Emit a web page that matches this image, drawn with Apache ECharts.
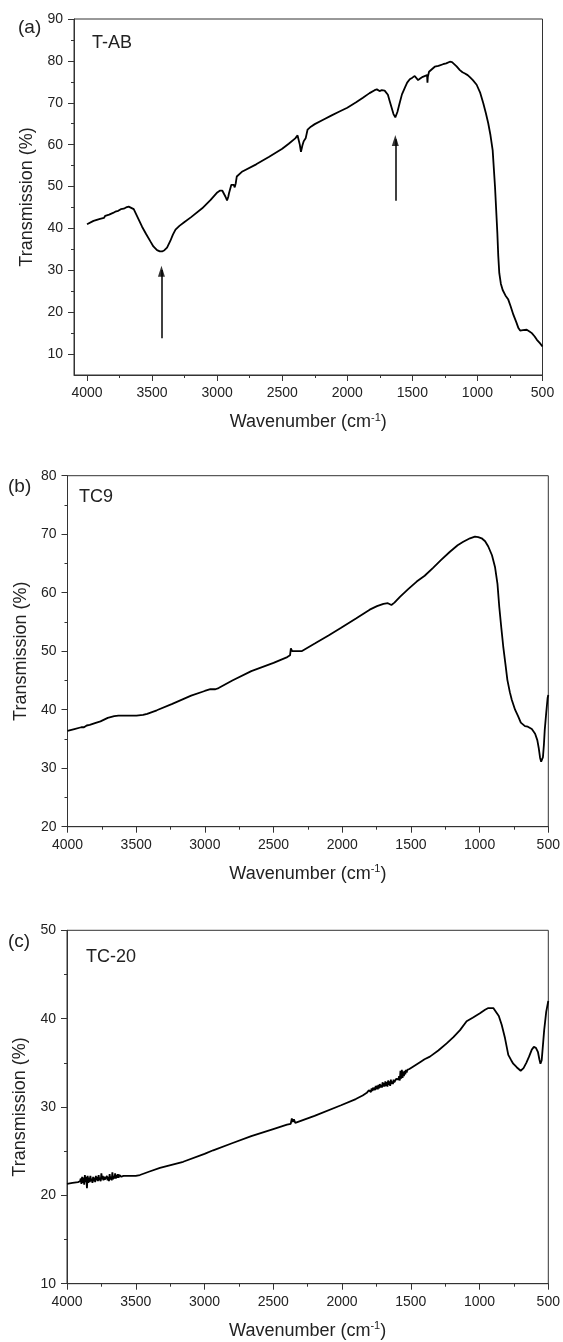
<!DOCTYPE html>
<html>
<head>
<meta charset="utf-8">
<script src="https://cdn.jsdelivr.net/npm/echarts@6/dist/echarts.min.js"></script>
<style>
html,body{margin:0;padding:0;background:#fff;}
#chart{width:563px;height:1342px;}
</style>
</head>
<body>
<div id="chart"></div>
<script>
// ---------- DATA ----------
// Panel (a) T-AB
const wnA = [4000,3950,3900,3886,3870,3860,3850,3830,3820,3800,3783,3760,3740,3718,3700,3680,3667,3641,3610,3577,3545,3513,3490,3462,3440,3423,3405,3385,3360,3340,3320,3290,3256,3200,3115,3050,2999,2980,2960,2945,2935,2924,2915,2909,2891,2882,2872,2865,2857,2849,2806,2700,2600,2500,2450,2400,2382,2374,2365,2356,2345,2335,2320,2305,2280,2250,2189,2120,2060,2000,1932,1880,1829,1790,1773,1760,1752,1735,1713,1700,1688,1675,1662,1645,1631,1615,1598,1580,1559,1540,1520,1500,1482,1470,1456,1440,1420,1405,1387,1384,1381,1372,1350,1328,1300,1264,1240,1212,1195,1181,1160,1135,1115,1096,1075,1058,1035,1006,980,955,935,917,900,883,865,847,840,832,820,806,785,763,745,724,700,685,672,650,621,600,582,560,543,520,500];
const tA  = [41.0,41.8,42.3,42.5,42.5,43.0,42.8,43.3,43.1,43.7,44.0,44.2,44.6,44.7,45.0,45.2,45.4,44.6,42.6,40.4,38.6,36.9,35.7,34.8,34.5,34.5,34.8,35.4,37.0,38.5,39.7,40.6,41.4,42.7,44.8,46.8,48.6,49.0,49.0,48.6,47.5,46.7,47.5,48.4,50.4,50.6,50.4,49.8,50.8,52.4,53.6,55.3,57.1,59.0,60.2,61.5,62.2,62.0,60.0,58.3,59.8,60.8,61.5,63.6,64.3,64.9,65.9,67.0,67.9,68.8,70.1,71.2,72.3,73.0,73.2,72.8,72.8,73.0,72.9,72.8,71.9,70.5,69.1,67.3,66.5,67.8,69.9,72.0,73.5,74.8,75.6,76.0,76.4,76.1,75.4,75.8,76.2,76.4,76.6,74.8,76.2,77.4,78.0,78.6,78.8,79.2,79.4,79.8,79.7,79.4,78.7,77.8,77.3,77.0,76.6,76.1,75.4,74.3,72.5,69.9,67.5,65.1,62.3,58.7,50.0,38.9,33.5,29.3,26.8,25.3,24.0,23.0,21.4,19.4,17.5,16.2,15.6,15.7,15.8,15.4,15.0,14.2,13.4,12.6,11.8];
// arrows in panel (a)
const arrowX    = [3428, 1631];
const arrowFrom = [13.8, 46.6];
const arrowTo   = [31.1, 62.3];

// Panel (b) TC9
const wnB = [4000,3950,3900,3880,3860,3838,3800,3760,3707,3660,3629,3560,3498,3450,3420,3350,3237,3100,3001,2960,2923,2900,2800,2662,2500,2400,2380,2374,2365,2353,2340,2330,2296,2200,2100,2008,1900,1800,1747,1700,1668,1655,1642,1620,1580,1520,1458,1400,1337,1280,1216,1160,1119,1070,1034,1010,985,960,937,910,888,870,857,842,828,812,798,780,766,742,720,700,688,670,649,620,596,580,570,560,552,545,539,532,526,515,505,500];
const tB  = [36.4,36.7,37.0,37.0,37.3,37.4,37.7,38.0,38.6,38.9,39.0,39.0,39.0,39.1,39.3,39.9,41.0,42.4,43.2,43.5,43.5,43.7,45.0,46.6,48.0,49.0,49.3,50.5,50.0,50.2,50.0,50.0,50.0,51.3,52.7,54.0,55.6,57.1,57.7,58.1,58.2,57.9,57.9,58.3,59.3,60.6,61.9,62.9,64.3,65.6,67.0,68.1,68.7,69.3,69.6,69.5,69.3,68.8,67.9,66.4,64.4,61.5,57.6,54.0,50.8,47.8,45.1,43.0,41.7,40.0,38.9,37.8,37.5,37.2,37.1,36.7,35.9,34.8,33.5,31.8,31.1,31.3,31.9,34.0,36.5,39.5,42.0,42.5];

// Panel (c) TC-20
const wnC = [4000,3960,3920,3905,
  3900,3895,3890,3885,3880,3875,3870,3865,3860,3855,3850,3845,3840,3835,3830,3825,3820,3815,3810,3805,3800,3795,3790,3785,3780,3775,3770,3765,3760,3755,3750,3745,3740,3735,3730,3725,3720,3715,3710,3705,3700,3695,3690,3685,3680,3675,3670,3665,3660,3655,3650,3645,3640,3635,3630,3625,3620,3615,3610,3605,3600,3590,3580,
  3550,3500,3470,3400,3324,3155,3000,2937,2800,2660,2500,2400,2373,2365,2358,2350,2340,2330,2200,2007,1900,1850,
  1820,1815,1810,1805,1800,1795,1790,1785,1780,1775,1770,1765,1760,1755,1750,1745,1740,1735,1730,1725,1720,1715,1710,1705,1700,1695,1690,1685,1680,1675,1670,1665,1660,1655,1650,1645,1640,1635,1630,1625,1620,1615,1610,1605,1600,1595,1590,1585,1580,1575,1570,1565,1560,1555,1550,1545,1540,1535,1530,1525,1520,1510,1500,
  1490,1470,1458,1430,1400,1361,1300,1239,1190,1142,1094,1050,997,960,936,900,888,860,839,815,791,770,755,730,701,680,660,640,620,605,590,575,565,557,548,540,530,515,500];
const tC  = [21.3,21.4,21.5,21.6,
  21.9,21.3,22.1,21.4,22.0,21.2,22.3,21.5,22.1,20.8,22.2,21.4,22.0,21.5,22.2,21.6,21.9,21.4,22.1,21.6,22.0,21.5,22.2,21.7,22.1,21.6,22.3,21.7,22.0,21.6,22.5,21.8,22.2,21.7,22.1,21.8,22.0,21.6,22.2,21.7,22.1,21.6,22.4,21.8,22.1,21.7,22.6,21.8,22.2,21.9,22.5,21.9,22.3,22.0,22.4,22.0,22.3,22.1,22.4,22.1,22.3,22.2,22.25,
  22.2,22.2,22.3,22.7,23.1,23.8,24.7,25.1,25.9,26.7,27.5,28.0,28.1,28.7,28.3,28.6,28.2,28.3,29.0,30.2,30.9,31.3,
  31.6,31.7,31.6,31.9,31.7,32.0,31.7,32.1,31.8,32.2,31.9,32.2,31.9,32.4,32.0,32.4,32.0,32.5,32.1,32.6,32.2,32.5,32.2,32.8,32.3,32.7,32.3,32.9,32.4,32.8,32.3,33.0,32.5,32.9,32.4,33.1,32.6,32.9,32.6,33.1,32.8,33.0,32.9,33.2,33.0,33.4,33.1,33.5,33.0,34.1,33.2,34.2,33.3,34.0,33.5,34.1,33.7,34.2,33.9,34.2,34.0,34.3,34.3,
  34.5,34.7,34.8,35.1,35.4,35.7,36.4,37.2,37.9,38.7,39.7,40.1,40.6,41.0,41.2,41.2,41.0,40.3,39.3,37.8,35.9,35.3,34.9,34.5,34.1,34.4,35.0,35.7,36.5,36.8,36.7,36.2,35.4,34.9,35.3,36.8,38.7,40.8,42.0];

// Tick values
const xMajor  = [500,1000,1500,2000,2500,3000,3500,4000];
const xMinorA = [750,1250,1750,2250,2750,3250,3750];
const yMajorA = [10,20,30,40,50,60,70,80,90];
const yMinorA = [15,25,35,45,55,65,75,85];

// ---------- CHART ----------
const FONT = '"Liberation Sans", Arial, sans-serif';
const TXT = '#222';
const FRAME = '#333';

function pairs(xs, ys){ return xs.map((x,i)=>[x, ys[i]]); }

const xName = '{n|Wavenumber (cm}{s|-1}{n|)}';
const nameStyle = {
  color: TXT, fontFamily: FONT, fontSize: 18,
  rich: {
    n: {fontSize: 18, fontFamily: FONT, color: TXT},
    s: {fontSize: 11, fontFamily: FONT, color: TXT, padding: [0,0,9,0]}
  }
};
const tickLabel = {fontSize: 14, fontFamily: FONT, color: TXT, margin: 11, formatter: v => String(v)};
const axLine = {show: true, onZero: false, lineStyle: {color: FRAME, width: 1}};

function mainX(grid, extra){
  return Object.assign({
    gridIndex: grid, type: 'value', position: 'bottom', offset: 0,
    min: 500, max: 4000, inverse: true,
    axisLine: axLine,
    axisTick: {show: true, inside: false, length: 6, lineStyle: {color: FRAME}},
    axisLabel: tickLabel,
    splitLine: {show: false},
    name: xName, nameLocation: 'middle', nameGap: 37, nameTextStyle: nameStyle
  }, extra);
}
function mainY(grid, extra){
  return Object.assign({
    gridIndex: grid, type: 'value', position: 'left', offset: 0,
    axisLine: axLine,
    axisTick: {show: true, inside: false, length: 6, lineStyle: {color: FRAME}},
    axisLabel: tickLabel,
    splitLine: {show: false},
    name: 'Transmission (%)', nameLocation: 'middle', nameGap: 37,
    nameTextStyle: {color: TXT, fontFamily: FONT, fontSize: 18}
  }, extra);
}

const minorTick = {show: true, splitNumber: 2, length: 3, lineStyle: {color: FRAME}};
const lineStyle = {color: '#000', width: 1.8};

const option = {
  animation: false,
  backgroundColor: '#fff',
  grid: [
    {left: 74, right: 20.5, top: 19, height: 356, show: true, borderColor: FRAME, borderWidth: 1, containLabel: false},
    {left: 67.5, right: 14.7, top: 475.7, height: 351, show: true, borderColor: FRAME, borderWidth: 1, containLabel: false},
    {left: 67, right: 14.7, top: 930.3, height: 353.4, show: true, borderColor: FRAME, borderWidth: 1, containLabel: false}
  ],
  xAxis: [
    mainX(0, {max: 4100,
      axisTick: {show: true, inside: false, length: 6, customValues: xMajor, lineStyle: {color: FRAME}},
      axisLabel: Object.assign({customValues: xMajor}, tickLabel)}),
    {gridIndex: 0, type: 'value', position: 'bottom', offset: 0, min: 500, max: 4100, inverse: true,
      axisLine: {show: false}, axisLabel: {show: false}, splitLine: {show: false},
      axisTick: {show: true, inside: false, length: 3, customValues: xMinorA, lineStyle: {color: FRAME}}},
    mainX(1, {interval: 500, minorTick: minorTick}),
    mainX(2, {interval: 500, minorTick: minorTick})
  ],
  yAxis: [
    mainY(0, {min: 5, max: 90,
      axisTick: {show: true, inside: false, length: 6, customValues: yMajorA, lineStyle: {color: FRAME}},
      axisLabel: Object.assign({customValues: yMajorA}, tickLabel)}),
    {gridIndex: 0, type: 'value', position: 'left', offset: 0, min: 5, max: 90,
      axisLine: {show: false}, axisLabel: {show: false}, splitLine: {show: false},
      axisTick: {show: true, inside: false, length: 3, customValues: yMinorA, lineStyle: {color: FRAME}}},
    mainY(1, {min: 20, max: 80, interval: 10, minorTick: minorTick}),
    mainY(2, {min: 10, max: 50, interval: 10, minorTick: minorTick})
  ],
  series: [
    {type: 'line', xAxisIndex: 0, yAxisIndex: 0, data: pairs(wnA, tA),
      showSymbol: false, symbol: 'none', lineStyle: lineStyle, silent: true,
      markLine: {
        silent: true, symbol: ['none', 'none'],
        lineStyle: {color: '#000', width: 1.5, type: 'solid'},
        label: {show: false},
        data: arrowX.map((x,i)=>[{coord: [x, arrowFrom[i]]}, {coord: [x, arrowTo[i] - 1]}])
      }},
    {type: 'scatter', xAxisIndex: 0, yAxisIndex: 0, data: pairs(arrowX, arrowTo),
      symbol: 'triangle', symbolSize: [7, 11], symbolOffset: [0, 5.5],
      itemStyle: {color: '#000'}, silent: true, z: 3},
    {type: 'line', xAxisIndex: 2, yAxisIndex: 2, data: pairs(wnB, tB),
      showSymbol: false, symbol: 'none', lineStyle: lineStyle, silent: true},
    {type: 'line', xAxisIndex: 3, yAxisIndex: 3, data: pairs(wnC, tC),
      showSymbol: false, symbol: 'none', lineStyle: lineStyle, silent: true}
  ],
  graphic: [
    {type: 'text', x: 18, y: 28, style: {text: '(a)', fontSize: 19, fontFamily: FONT, fill: TXT, verticalAlign: 'middle', align: 'left'}},
    {type: 'text', x: 92, y: 43, style: {text: 'T-AB', fontSize: 18, fontFamily: FONT, fill: TXT, verticalAlign: 'middle', align: 'left'}},
    {type: 'text', x: 8, y: 487, style: {text: '(b)', fontSize: 19, fontFamily: FONT, fill: TXT, verticalAlign: 'middle', align: 'left'}},
    {type: 'text', x: 79, y: 497, style: {text: 'TC9', fontSize: 18, fontFamily: FONT, fill: TXT, verticalAlign: 'middle', align: 'left'}},
    {type: 'text', x: 8, y: 942, style: {text: '(c)', fontSize: 19, fontFamily: FONT, fill: TXT, verticalAlign: 'middle', align: 'left'}},
    {type: 'text', x: 86, y: 957, style: {text: 'TC-20', fontSize: 18, fontFamily: FONT, fill: TXT, verticalAlign: 'middle', align: 'left'}}
  ]
};

const chart = echarts.init(document.getElementById('chart'), null, {renderer: 'canvas'});
chart.setOption(option);
</script>
</body>
</html>
